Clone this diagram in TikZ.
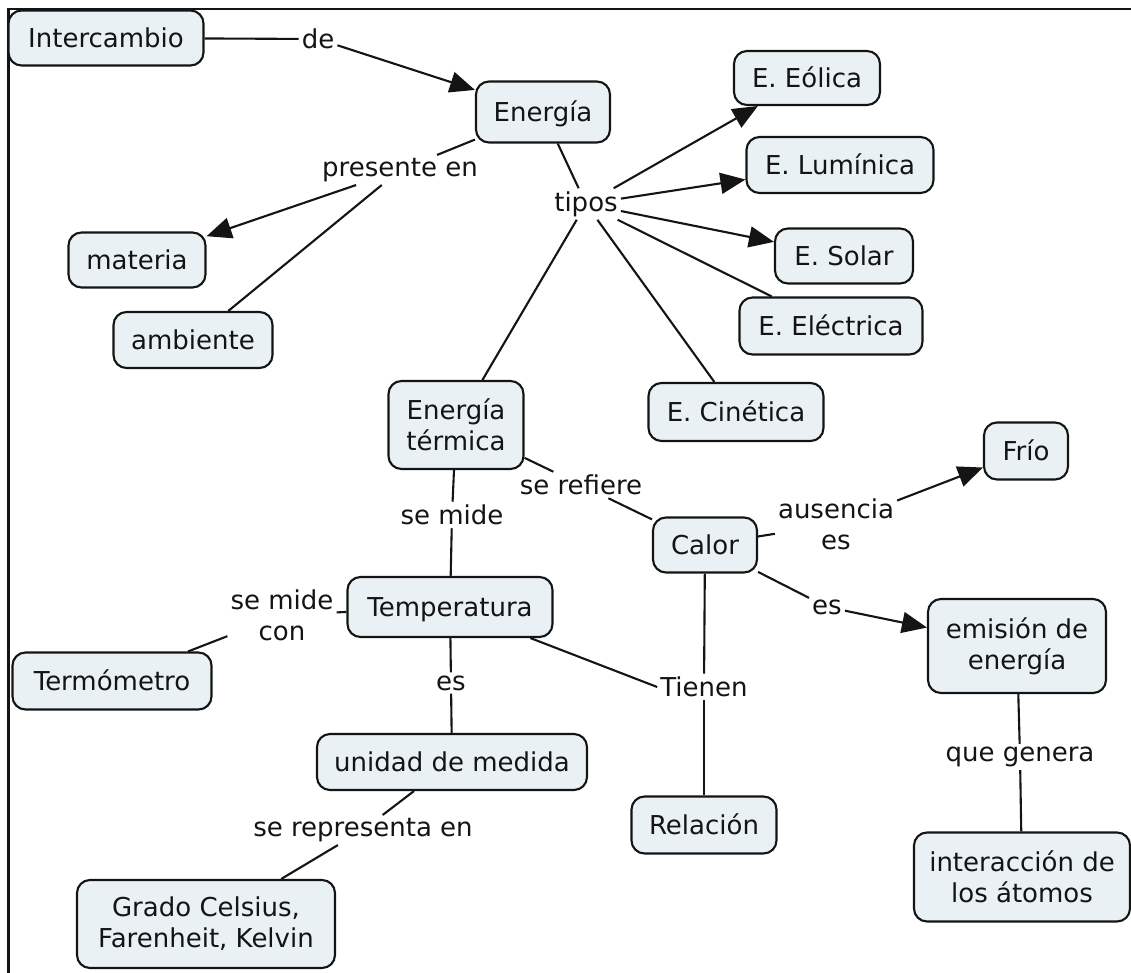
\documentclass[tikz,border=0pt]{standalone}
\usepackage{fontspec}
\setmainfont{DejaVu Sans}
\usetikzlibrary{arrows.meta}
\definecolor{conceptfill}{HTML}{EAF1F4}
\definecolor{ink}{HTML}{141414}
\begin{document}
\begin{tikzpicture}[x=1pt,y=-1pt,
  every node/.style={font=\fontsize{26}{31}\selectfont, text=ink},
  concept/.style={draw=ink, line width=2.1pt, fill=conceptfill,
    rounded corners=13pt, inner sep=0pt, text height=19pt, text depth=0pt},
  concepttwo/.style={draw=ink, line width=2.1pt, fill=conceptfill,
    rounded corners=13pt, inner sep=0pt, align=center},
  phrase/.style={inner sep=3pt, align=center},
  link/.style={draw=ink, line width=2.1pt},
  arrowlink/.style={link, -{Triangle[length=25pt,width=21pt]}}
]
\useasboundingbox (0,0) rectangle (1131,973);
\fill[white] (0,0) rectangle (1131,973);

% frame of the map
\draw[ink, line width=2.4pt] (8.5,973) -- (8.5,9) -- (1131,9);

% concepts
\node[concept, minimum width=195pt, minimum height=55pt] (intercambio) at (106,38) {Intercambio};
\node[concept, minimum width=134pt, minimum height=61pt] (energia) at (543,112) {Energía};
\node[concept, minimum width=146pt, minimum height=54pt] (eolica) at (807,78) {E. Eólica};
\node[concept, minimum width=187pt, minimum height=56pt] (luminica) at (840,165) {E. Lumínica};
\node[concept, minimum width=138pt, minimum height=55pt] (solar) at (844,256) {E. Solar};
\node[concept, minimum width=183pt, minimum height=57pt] (electrica) at (831,326) {E. Eléctrica};
\node[concept, minimum width=175pt, minimum height=58pt] (cinetica) at (736,412) {E. Cinética};
\node[concept, minimum width=137pt, minimum height=55pt] (materia) at (137,260) {materia};
\node[concept, minimum width=159pt, minimum height=56pt] (ambiente) at (193,340) {ambiente};
\node[concepttwo, minimum width=135pt, minimum height=88pt] (termica) at (456,425) {Energía\\térmica};
\node[concept, minimum width=104pt, minimum height=55pt] (calor) at (705,545) {Calor};
\node[concept, minimum width=84pt, minimum height=57pt] (frio) at (1026,451) {Frío};
\node[concept, minimum width=205pt, minimum height=60pt] (temperatura) at (450,607) {Temperatura};
\node[concept, minimum width=199pt, minimum height=57pt] (termometro) at (112,681) {Termómetro};
\node[concept, minimum width=270pt, minimum height=56pt] (unidad) at (452,762) {unidad de medida};
\node[concepttwo, minimum width=258pt, minimum height=88pt] (grados) at (206,924) {Grado Celsius,\\Farenheit, Kelvin};
\node[concepttwo, minimum width=178pt, minimum height=94pt] (emision) at (1017,646) {emisión de\\energía};
\node[concept, minimum width=145pt, minimum height=57pt] (relacion) at (704,825) {Relación};
\node[concepttwo, minimum width=216pt, minimum height=89pt] (interaccion) at (1022,877) {interacción de\\los átomos};

% linking phrases
\node[phrase] (de) at (318,39) {de};
\node[phrase] (presente) at (400,170) {presente en};
\node[phrase] (tipos) at (586,204) {tipos};
\node[phrase] (refiere) at (581,485) {se refiere};
\node[phrase] (mide) at (452,515) {se mide};
\node[phrase] (midecon) at (282,615) {se mide\\con};
\node[phrase] (ausencia) at (836,524) {ausencia\\es};
\node[phrase] (escalor) at (827,607) {es};
\node[phrase] (estemp) at (451,683) {es};
\node[phrase] (tienen) at (704,687) {Tienen};
\node[phrase] (representa) at (363,830) {se representa en};
\node[phrase] (genera) at (1020,757) {que genera};

% connections
\draw[link] (intercambio) -- (de);
\draw[arrowlink] (de) -- (energia);
\draw[link] (energia) -- (presente);
\draw[arrowlink] (presente) -- (materia);
\draw[link] (presente) -- (ambiente);
\draw[link] (energia) -- (tipos);
\draw[arrowlink] (tipos) -- (eolica);
\draw[arrowlink] (tipos) -- (luminica);
\draw[arrowlink] (tipos) -- (solar);
\draw[link] (tipos) -- (electrica);
\draw[link] (tipos) -- (cinetica);
\draw[link] (tipos) -- (termica);
\draw[link] (termica) -- (refiere);
\draw[link] (refiere) -- (calor);
\draw[link] (termica) -- (mide);
\draw[link] (mide) -- (temperatura);
\draw[link] (temperatura) -- (midecon);
\draw[link] (midecon) -- (termometro);
\draw[link] (temperatura) -- (estemp);
\draw[link] (estemp) -- (unidad);
\draw[link] (unidad) -- (representa);
\draw[link] (representa) -- (grados);
\draw[link] (temperatura) -- (tienen.west);
\draw[link] (calor) -- (tienen);
\draw[link] (tienen) -- (relacion);
\draw[link] (calor) -- (ausencia);
\draw[arrowlink] (ausencia) -- (frio);
\draw[link] (calor) -- (escalor);
\draw[arrowlink] (escalor) -- (emision);
\draw[link] (emision) -- (genera);
\draw[link] (genera) -- (interaccion);
\end{tikzpicture}
\end{document}
